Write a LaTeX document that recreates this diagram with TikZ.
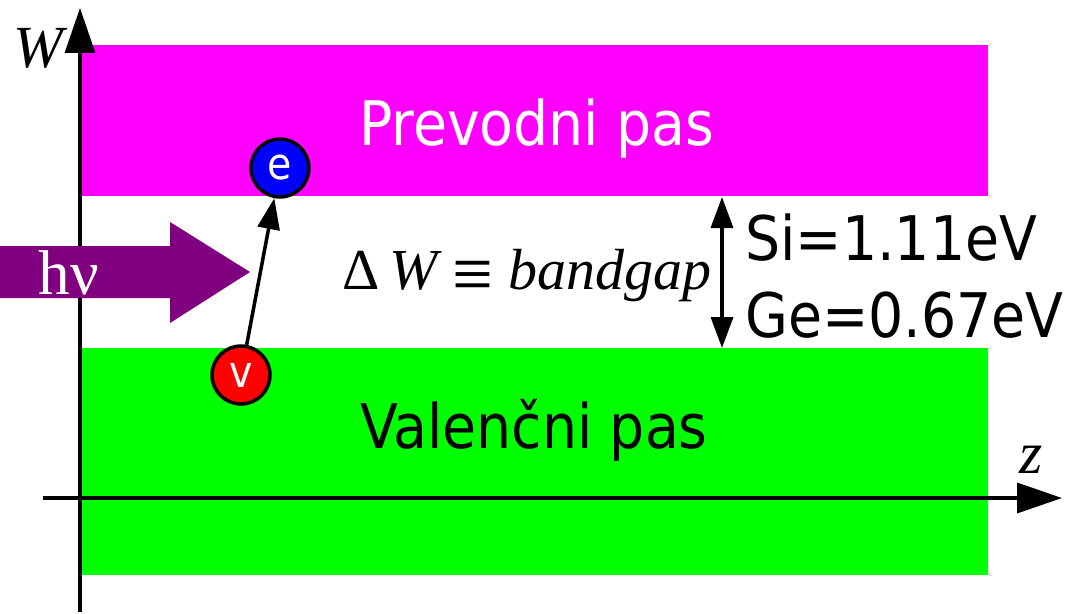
\documentclass[tikz,border=0pt]{standalone}
\usepackage{fontspec}
\setmainfont{Liberation Serif}
\newfontfamily\bandfont{DejaVu Sans Condensed}
\usetikzlibrary{arrows.meta}
\definecolor{prevodcol}{RGB}{255,0,255}
\definecolor{valenccol}{RGB}{0,255,0}
\definecolor{fotoncol}{RGB}{128,0,128}

\begin{document}
\begin{tikzpicture}[x=0.02cm,y=-0.02cm,
    axis/.style={line width=2pt,-{Triangle[length=0.9cm,width=0.6cm]}},
    hop/.style={line width=2pt,-{Triangle[length=0.62cm,width=0.44cm]}},
    carrier/.style={circle,draw,line width=2pt,minimum size=1.16cm,inner sep=0pt,
        text=white,font=\bandfont\fontsize{25}{30}\selectfont},
    bandtext/.style={anchor=base,font=\bandfont\fontsize{35}{40}\selectfont},
    serif/.style={anchor=base,font=\fontsize{34}{40}\selectfont}]
    \useasboundingbox (0,0) rectangle (1071,613);

    \fill[prevodcol] (82,45) rectangle (988,196);   % Prevodni pas
    \fill[valenccol] (82,348) rectangle (988,575);  % Valencni pas

    \coordinate (W0) at (80,612);
    \coordinate (W1) at (80,8);
    \coordinate (z0) at (43,498);
    \coordinate (z1) at (1062,498);
    \draw[axis] (W0) -- (W1);  % Axis
    \draw[axis] (z0) -- (z1);
    \node[serif] (Wlab) at (38,67) {\itshape W};
    \node[serif] (zlab) at (1031,473) {\itshape z};

    \node[bandtext,text=white] (prevodni) at (537,145) {Prevodni pas};
    \node[bandtext] (valencni) at (534,448) {Valenčni pas};

    % foton
    \fill[fotoncol] (0,246) -- (170,246) -- (170,222) -- (250,272)
        -- (170,323) -- (170,298) -- (0,298) -- cycle;
    \node[serif,text=white,font=\fontsize{36}{40}\selectfont] (hv) at (69,294) {hν};

    \node[carrier,fill=blue] (e) at (280,168) {e};
    \node[carrier,fill=red] (v) at (241,375) {v};
    \draw[hop] (v) -- (e);

    \node[serif,font=\fontsize{33}{40}\selectfont] (gap) at (527,289)
        {Δ\,{\itshape W} \raisebox{-0.2em}{\scalebox{1.25}[1.35]{≡}} {\itshape bandgap}};
    \coordinate (gaptop) at (722,197);
    \coordinate (gapbot) at (722,348);
    \draw[hop,{Triangle[length=0.62cm,width=0.44cm]}-{Triangle[length=0.62cm,width=0.44cm]}] (gaptop) -- (gapbot);

    \node[bandtext,anchor=base west,inner sep=0pt] (si) at (745,260) {Si=1.11eV};
    \node[bandtext,anchor=base west,inner sep=0pt] (ge) at (745,337) {Ge=0.67eV};
\end{tikzpicture}
\end{document}
